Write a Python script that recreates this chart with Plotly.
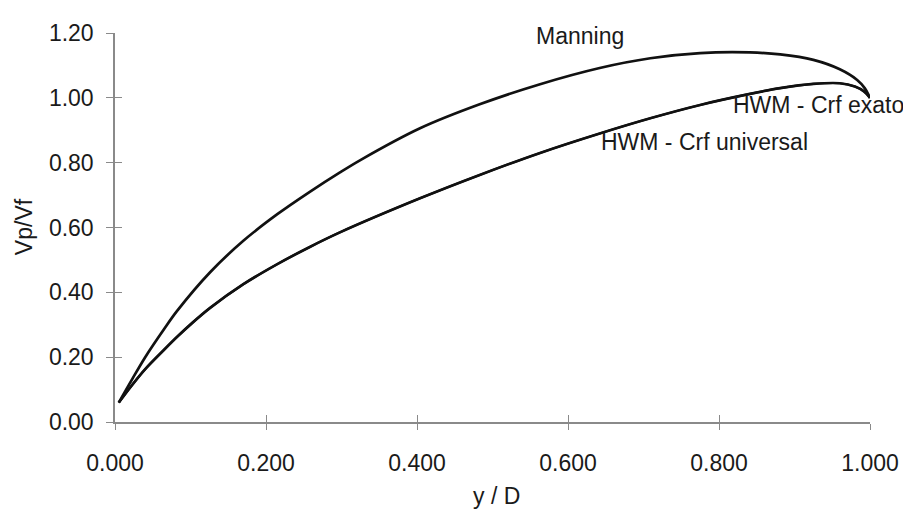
import plotly.graph_objects as go

# y/D values and Vp/Vf values
manning_x = [0.005, 0.023, 0.040, 0.066, 0.082, 0.126, 0.170, 0.215, 0.258, 0.298,
             0.325, 0.404, 0.483, 0.563, 0.642, 0.709, 0.775, 0.841, 0.881, 0.925,
             0.960, 0.983, 0.993, 1.000]
manning_y = [0.060, 0.133, 0.200, 0.290, 0.342, 0.462, 0.559, 0.641, 0.710, 0.770,
             0.808, 0.906, 0.980, 1.042, 1.092, 1.122, 1.138, 1.140, 1.134, 1.117,
             1.088, 1.055, 1.030, 1.000]

hwm_x = [0.005, 0.023, 0.040, 0.066, 0.082, 0.102, 0.126, 0.170, 0.215, 0.258,
         0.298, 0.404, 0.483, 0.563, 0.642, 0.709, 0.775, 0.841, 0.881, 0.925,
         0.960, 0.980, 0.992, 1.000]
hwm_y = [0.060, 0.115, 0.163, 0.225, 0.262, 0.305, 0.352, 0.425, 0.487, 0.540,
         0.585, 0.690, 0.762, 0.830, 0.890, 0.937, 0.978, 1.012, 1.030, 1.043,
         1.045, 1.035, 1.020, 1.000]

x_ticks = [0.0, 0.2, 0.4, 0.6, 0.8, 1.0]
x_tick_text = ["0.000", "0.200", "0.400", "0.600", "0.800", "1.000"]
y_ticks = [0.0, 0.2, 0.4, 0.6, 0.8, 1.0, 1.2]
y_tick_text = ["0.00", "0.20", "0.40", "0.60", "0.80", "1.00", "1.20"]

FONT = "Liberation Sans, Arial, sans-serif"
AXIS_COL = "#8a8a8a"
TXT = "#1a1a1a"

fig = go.Figure()
fig.add_trace(go.Scatter(x=manning_x, y=manning_y, mode="lines", name="Manning",
                         line=dict(color="#111111", width=2.7, shape="spline", smoothing=0.9)))
fig.add_trace(go.Scatter(x=hwm_x, y=hwm_y, mode="lines", name="HWM - Crf exato",
                         line=dict(color="#111111", width=2.7, shape="spline", smoothing=0.9)))
fig.add_trace(go.Scatter(x=hwm_x, y=hwm_y, mode="lines", name="HWM - Crf universal",
                         line=dict(color="#111111", width=2.2, shape="spline", smoothing=0.9)))
# invisible trace for the overlay axes (inner half of crossing ticks)
fig.add_trace(go.Scatter(x=[0.5], y=[0.5], xaxis="x2", yaxis="y2", mode="markers",
                         marker=dict(opacity=0), hoverinfo="skip", showlegend=False))

common = dict(showgrid=False, zeroline=False, tickcolor=AXIS_COL, tickwidth=1.3)

# page body has an 8px margin, so the figure is sized 8px smaller than the window
fig.update_layout(
    width=903, height=501,
    margin=dict(l=107, r=41, t=17, b=87),
    paper_bgcolor="white", plot_bgcolor="white",
    showlegend=False,
    font=dict(family=FONT, size=23, color=TXT),
    xaxis=dict(range=[0, 1], tickvals=x_ticks, ticktext=x_tick_text,
               showline=True, linecolor=AXIS_COL, linewidth=1.5,
               ticks="outside", ticklen=6, ticklabelstandoff=14, **common),
    yaxis=dict(range=[0, 1.2], tickvals=y_ticks, ticktext=y_tick_text,
               showline=True, linecolor=AXIS_COL, linewidth=1.5,
               ticks="outside", ticklen=7, ticklabelstandoff=8, **common),
    xaxis2=dict(range=[0, 1], tickvals=x_ticks, overlaying="x", anchor="y", side="bottom",
                ticks="inside", ticklen=7, showticklabels=False, showline=False, **common),
    yaxis2=dict(range=[0, 1.2], tickvals=y_ticks, overlaying="y", anchor="x", side="left",
                ticks="inside", ticklen=7, showticklabels=False, showline=False, **common),
    annotations=[
        dict(text="Manning", x=0.616, y=1.191, xref="x", yref="y", showarrow=False,
             xanchor="center", yanchor="middle", font=dict(size=23, color=TXT)),
        dict(text="HWM - Crf exato", x=0.932, y=0.979, xref="x", yref="y", showarrow=False,
             xanchor="center", yanchor="middle", font=dict(size=23, color=TXT)),
        dict(text="HWM - Crf universal", x=0.781, y=0.865, xref="x", yref="y", showarrow=False,
             xanchor="center", yanchor="middle", font=dict(size=23, color=TXT)),
        dict(text="Vp/Vf", x=-0.1205, y=0.501, xref="paper", yref="paper", showarrow=False,
             xanchor="center", yanchor="middle", textangle=-90, font=dict(size=23, color=TXT)),
        dict(text="y / D", x=0.505, y=-0.189, xref="paper", yref="paper", showarrow=False,
             xanchor="center", yanchor="middle", font=dict(size=23, color=TXT)),
    ],
)

fig.write_html("out.html")
